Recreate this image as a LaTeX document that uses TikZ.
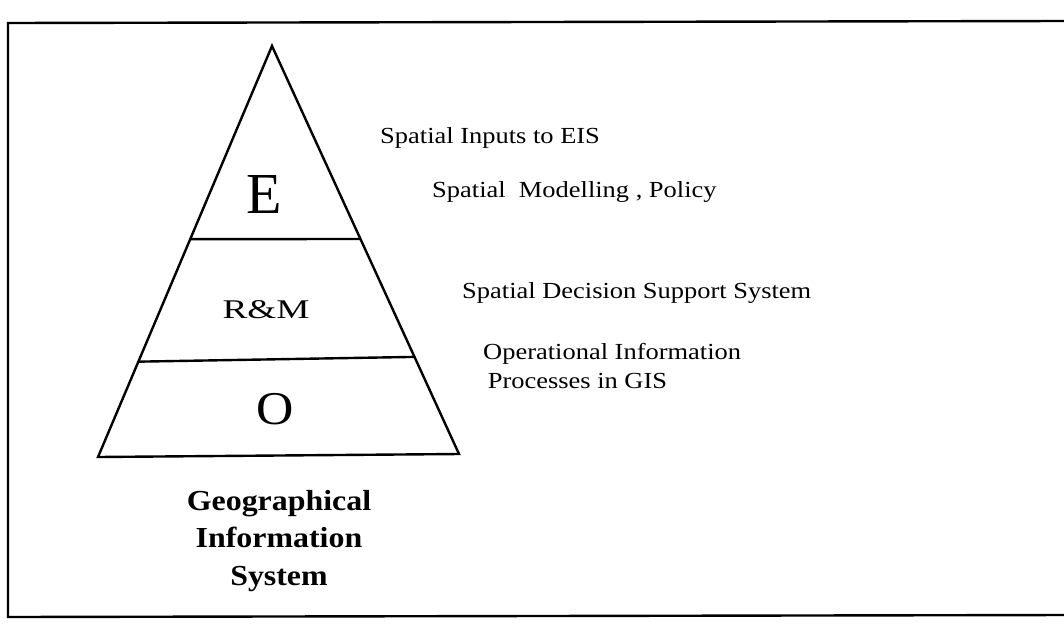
\documentclass[tikz,border=0pt]{standalone}
\usepackage{fontspec}
\setmainfont{Liberation Serif}
\usetikzlibrary{positioning, calc}

\begin{document}
\begin{tikzpicture}[x=1pt,y=-1pt]
\tikzstyle{every node}=[inner sep=0pt]
\tikzstyle{frame}=[line width=2.4pt, line join=miter]
\tikzstyle{layer}=[font=\fontsize{58}{60}\selectfont]
\tikzstyle{note}=[anchor=base west, align=left, xscale=1.15, font=\fontsize{23}{29}\selectfont]

\useasboundingbox (0,0) rectangle (1064,624);

\coordinate (tr) at (1066,21);
\coordinate (tl) at (8,23);
\coordinate (bll) at (8,617);
\coordinate (brr) at (1066,615);
\draw[frame] (tr) -- (tl) -- (bll) -- (brr);

\coordinate (apex) at (272,46);
\coordinate (bl) at (98,457);
\coordinate (br) at (459,454);
\draw[frame] (apex) -- (bl) -- (br) -- cycle;

\coordinate (d1l) at ($(apex)!0.47!(bl)$);
\coordinate (d1r) at ($(apex)!0.473!(br)$);
\coordinate (d2l) at ($(apex)!0.768!(bl)$);
\coordinate (d2r) at ($(apex)!0.762!(br)$);
\draw[frame] (d1l) -- (d1r);
\draw[frame] (d2l) -- (d2r);

\node[layer] at (264,194.5) (E) {E};
\node[font=\fontsize{27}{29}\selectfont, xscale=1.38] at (266,310) (RM) {R\&M};
\node[font=\fontsize{47}{50}\selectfont, xscale=1.1] at (275,409) (O) {O};

\node[note] at (380,143) (inputs) {Spatial Inputs to EIS};
\node[note] at (432,197) (model) {Spatial\ \ Modelling , Policy};
\node[note] at (462,298) (dss) {Spatial Decision Support System};
\node[note] at (483,388) (ops) {Operational Information\\\hspace*{4pt}Processes in GIS};

\node[align=center, xscale=1.1, font=\bfseries\fontsize{29}{37.5}\selectfont] at (279,541) (gis)
  {Geographical\\Information\\System};
\end{tikzpicture}
\end{document}
